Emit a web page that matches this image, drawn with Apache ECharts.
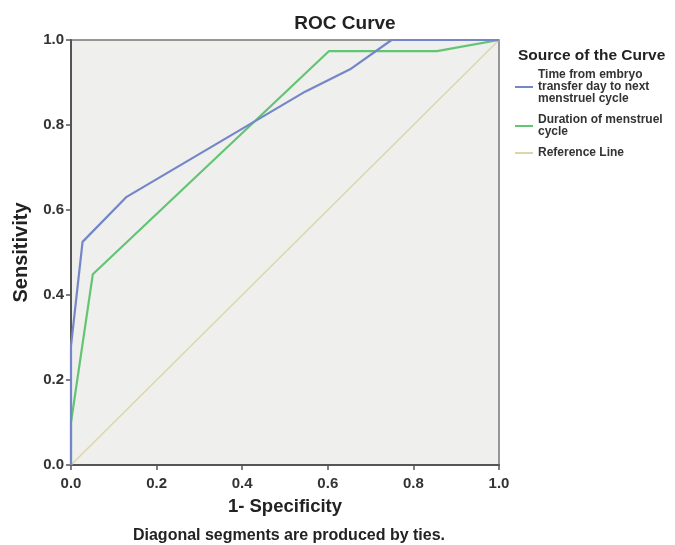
<!DOCTYPE html>
<html>
<head>
<meta charset="utf-8">
<script src="https://cdn.jsdelivr.net/npm/echarts@6/dist/echarts.min.js"></script>
<style>
  html, body { margin: 0; padding: 0; background: #ffffff; }
  #chart { width: 675px; height: 545px; }
</style>
</head>
<body>
<div id="chart"></div>
<script>
// ROC points as [1 - specificity, sensitivity]
const seriesNames = [
  'Time from embryo\ntransfer day to next\nmenstruel cycle',
  'Duration of menstruel\ncycle',
  'Reference Line'
];
const embryoTransferCurve = [
  [0, 0], [0, 0.28], [0.027, 0.525], [0.13, 0.631], [0.548, 0.879], [0.652, 0.931], [0.749, 1], [1, 1]
];
const cycleDurationCurve = [
  [0, 0], [0, 0.1], [0.051, 0.449], [0.603, 0.974], [0.855, 0.974], [1, 1]
];
const referenceLine = [[0, 0], [1, 1]];

const FONT = '"Liberation Sans Narrow", "Liberation Sans", Arial, sans-serif';
const seriesColors = ['#7486c8', '#63c473', '#dcd7ab'];

const chart = echarts.init(document.getElementById('chart'), null, { renderer: 'canvas' });

const axisCommon = {
  type: 'value',
  min: 0,
  max: 1,
  interval: 0.2,
  nameLocation: 'middle',
  axisLine: { show: true, onZero: false, lineStyle: { color: '#555', width: 2 } },
  axisTick: { show: true, length: 5, lineStyle: { color: '#555', width: 1.5 } },
  axisLabel: {
    fontFamily: FONT, fontWeight: 'bold', fontSize: 15, color: '#333',
    formatter: v => v.toFixed(1)
  },
  splitLine: { show: false }
};

chart.setOption({
  animation: false,
  backgroundColor: '#ffffff',
  title: [
    {
      text: 'ROC Curve',
      left: 340, top: 9, textAlign: 'center',
      textStyle: { fontFamily: FONT, fontWeight: 'bold', fontSize: 19, color: '#222' }
    },
    {
      text: 'Source of the Curve',
      left: 513, top: 43,
      textStyle: { fontFamily: FONT, fontWeight: 'bold', fontSize: 15.5, color: '#222' }
    },
    {
      text: 'Diagonal segments are produced by ties.',
      left: 284, top: 523, textAlign: 'center',
      textStyle: { fontFamily: FONT, fontWeight: 'bold', fontSize: 16, color: '#222' }
    }
  ],
  legend: {
    orient: 'vertical',
    left: 510, top: 64,
    itemWidth: 18, itemHeight: 2, itemGap: 9,
    icon: 'rect',
    data: seriesNames,
    textStyle: { fontFamily: FONT, fontWeight: 'bold', fontSize: 12, lineHeight: 12, color: '#333' }
  },
  grid: {
    left: 71, top: 40, width: 428, height: 425,
    show: true, backgroundColor: '#efefed', borderColor: '#777', borderWidth: 1.5
  },
  xAxis: Object.assign({}, axisCommon, {
    name: '1- Specificity', nameGap: 32,
    nameTextStyle: { fontFamily: FONT, fontWeight: 'bold', fontSize: 18.5, color: '#222' },
    axisLabel: Object.assign({}, axisCommon.axisLabel, { margin: 11 })
  }),
  yAxis: Object.assign({}, axisCommon, {
    name: 'Sensitivity', nameGap: 40,
    nameTextStyle: { fontFamily: FONT, fontWeight: 'bold', fontSize: 20, color: '#222' },
    axisLabel: Object.assign({}, axisCommon.axisLabel, { margin: 7 })
  }),
  series: [
    { name: seriesNames[0], data: embryoTransferCurve, color: seriesColors[0] },
    { name: seriesNames[1], data: cycleDurationCurve, color: seriesColors[1] },
    { name: seriesNames[2], data: referenceLine, color: seriesColors[2] }
  ].map((s, i) => Object.assign({
    type: 'line', symbol: 'none', z: 3 - i,
    lineStyle: { width: i === 2 ? 1.5 : 2.2 }
  }, s))
});
</script>
</body>
</html>
